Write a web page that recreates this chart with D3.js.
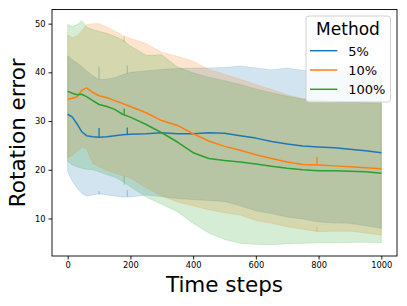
<!DOCTYPE html>
<html>
<head>
<meta charset="utf-8">
<script src="https://cdn.jsdelivr.net/npm/d3@7"></script>
<style>
  body { margin: 0; background: #fff; }
  svg { display: block; font-family: "DejaVu Sans", sans-serif; }
</style>
</head>
<body>
<svg id="chart" width="407" height="306"></svg>
<script>
// time steps shared by all methods
const steps = [0, 15, 30, 45, 60, 80, 100, 125, 150, 175, 200, 250, 300, 350, 400, 450, 500, 550, 600, 650, 700, 750, 800, 850, 900, 950, 1000];

// 5%
const mean5 = [31.4, 30.8, 29.4, 27.8, 27.0, 26.8, 26.7, 26.8, 27.0, 27.2, 27.3, 27.4, 27.6, 27.4, 27.4, 27.6, 27.5, 27.0, 26.5, 25.8, 25.3, 24.9, 24.7, 24.5, 24.2, 23.9, 23.5];
const lo5 = [19.6, 17.7, 16.2, 15.2, 14.6, 14.8, 15.1, 14.8, 14.6, 14.4, 14.4, 14.8, 14.5, 14.1, 13.9, 13.7, 13.5, 12.6, 11.6, 11.0, 10.3, 9.9, 9.3, 9.1, 9.0, 8.5, 8.0];
const hi5 = [43.4, 42.6, 41.9, 41.2, 40.3, 39.3, 38.5, 38.6, 38.9, 39.5, 40.0, 40.3, 40.6, 40.8, 40.9, 40.9, 41.0, 41.3, 40.9, 40.5, 40.9, 40.4, 40.3, 40.2, 40.2, 40.1, 40.0];

// 10%
const mean10 = [34.5, 34.7, 35.0, 36.3, 36.8, 35.9, 35.2, 34.8, 34.2, 33.6, 33.0, 31.7, 30.1, 29.1, 27.4, 25.9, 24.8, 24.0, 23.1, 22.3, 21.6, 21.1, 21.0, 20.8, 20.6, 20.4, 20.2];
const lo10 = [22.4, 23.0, 23.8, 24.6, 24.3, 21.3, 20.6, 19.9, 19.3, 18.8, 18.3, 16.3, 14.6, 13.4, 12.6, 11.8, 11.2, 10.7, 9.6, 9.0, 8.3, 7.8, 7.3, 7.4, 7.4, 7.0, 6.6];
const hi10 = [47.7, 47.1, 47.5, 48.5, 49.8, 50.0, 50.0, 49.3, 48.5, 47.6, 47.0, 45.9, 44.1, 43.3, 42.3, 40.6, 39.6, 38.6, 37.5, 36.5, 35.4, 34.6, 34.3, 34.1, 34.0, 33.9, 33.8];

// 100%
const mean100 = [36.1, 35.7, 35.4, 35.5, 35.0, 34.2, 33.4, 33.0, 32.4, 31.4, 30.8, 29.3, 27.6, 25.7, 23.5, 22.3, 21.9, 21.6, 21.2, 20.7, 20.3, 20.0, 19.8, 19.8, 19.7, 19.6, 19.3];
const lo100 = [21.7, 21.0, 20.6, 20.3, 20.1, 20.0, 19.6, 19.0, 18.5, 17.6, 16.5, 14.4, 12.9, 11.4, 9.0, 7.0, 5.7, 4.9, 4.7, 4.6, 4.8, 4.9, 5.0, 5.0, 5.1, 5.1, 5.0];
const hi100 = [49.8, 49.4, 49.8, 50.6, 49.3, 48.8, 48.4, 48.0, 47.4, 46.7, 45.4, 43.5, 43.6, 41.1, 39.9, 39.0, 38.3, 37.5, 36.6, 35.8, 35.1, 34.5, 34.2, 34.0, 33.9, 33.7, 33.6];

// single-step glitches: [step, from, to]
const spikes5 = [[100, 26.7, 28.6], [190, 27.3, 28.7]];
const bandSpikes5 = [[100, 38.5, 41.2], [190, 39.8, 41.4], [100, 14.9, 15.6], [190, 14.5, 15.8]];
const spikes10 = [[795, 21.0, 22.6]];
const bandSpikes10 = [[795, 7.3, 8.2]];
const spikes100 = [[180, 31.3, 32.6]];
const bandSpikes100 = [[180, 46.2, 47.3], [180, 16.9, 18.7]];

const labels = ['5%', '10%', '100%'];
const colors = ['#1f77b4', '#ff7f0e', '#2ca02c'];
const xTicks = [0, 200, 400, 600, 800, 1000];
const yTicks = [10, 20, 30, 40, 50];

const methods = [
  { mean: mean5, lo: lo5, hi: hi5, spikes: spikes5, bandSpikes: bandSpikes5 },
  { mean: mean10, lo: lo10, hi: hi10, spikes: spikes10, bandSpikes: bandSpikes10 },
  { mean: mean100, lo: lo100, hi: hi100, spikes: spikes100, bandSpikes: bandSpikes100 }
];

const svg = d3.select('#chart');
const plotLeft = 52, plotTop = 9.5, plotRight = 397, plotBottom = 256;

// matplotlib style 5% margins
function padded(lo, hi) {
  let m = (hi - lo) * 0.05;
  return [lo - m, hi + m];
}
let yMin = d3.min(methods, m => d3.min(m.lo));
let yMax = d3.max(methods, m => d3.max(m.hi));

const x = d3.scaleLinear().domain(padded(0, 1000)).range([plotLeft, plotRight]);
const y = d3.scaleLinear().domain(padded(yMin, yMax)).range([plotBottom, plotTop]);

let g = svg.append('g');

// bands
methods.forEach((m, i) => {
  let area = d3.area()
    .x((d, j) => x(steps[j]))
    .y0((d, j) => y(m.lo[j]))
    .y1((d, j) => y(m.hi[j]));
  g.append('path')
    .datum(steps)
    .attr('d', area)
    .style('fill', colors[i])
    .style('fill-opacity', 0.2)
    .style('stroke', colors[i])
    .style('stroke-opacity', 0.2)
    .style('stroke-width', 0.8);
  m.bandSpikes.forEach(s => {
    g.append('line')
      .attr('x1', x(s[0])).attr('x2', x(s[0]))
      .attr('y1', y(s[1])).attr('y2', y(s[2]))
      .style('stroke', colors[i])
      .style('stroke-opacity', 0.4)
      .style('stroke-width', 1);
  });
});

// mean lines
methods.forEach((m, i) => {
  let line = d3.line()
    .x((d, j) => x(steps[j]))
    .y((d, j) => y(m.mean[j]));
  g.append('path')
    .datum(steps)
    .attr('d', line)
    .style('fill', 'none')
    .style('stroke', colors[i])
    .style('stroke-width', 1.5)
    .style('stroke-linejoin', 'round');
  m.spikes.forEach(s => {
    g.append('line')
      .attr('x1', x(s[0])).attr('x2', x(s[0]))
      .attr('y1', y(s[1])).attr('y2', y(s[2]))
      .style('stroke', colors[i])
      .style('stroke-width', 1.3);
  });
});

// axes box
svg.append('rect')
  .attr('x', plotLeft).attr('y', plotTop)
  .attr('width', plotRight - plotLeft).attr('height', plotBottom - plotTop)
  .style('fill', 'none')
  .style('stroke', '#000')
  .style('stroke-width', 0.9);

let xAxis = svg.append('g')
  .attr('transform', 'translate(0,' + plotBottom + ')')
  .call(d3.axisBottom(x).tickValues(xTicks).tickSize(3.5).tickPadding(3).tickFormat(d3.format('d')));
let yAxis = svg.append('g')
  .attr('transform', 'translate(' + plotLeft + ',0)')
  .call(d3.axisLeft(y).tickValues(yTicks).tickSize(3.5).tickPadding(3).tickFormat(d3.format('d')));
[xAxis, yAxis].forEach(a => {
  a.select('.domain').remove();
  a.selectAll('text').style('font-size', '8.3px').style('font-family', '"DejaVu Sans", sans-serif').style('fill', '#000');
  a.selectAll('line').style('stroke', '#000').style('stroke-width', 0.9);
});

// axis labels
svg.append('text')
  .attr('x', (plotLeft + plotRight) / 2)
  .attr('y', 291.5)
  .attr('text-anchor', 'middle')
  .style('font-size', '21.5px')
  .text('Time steps');

svg.append('text')
  .attr('transform', 'translate(25,' + (plotTop + plotBottom) / 2 + ') rotate(-90)')
  .attr('text-anchor', 'middle')
  .style('font-size', '21.5px')
  .text('Rotation error');

// legend
let legend = svg.append('g');
legend.append('rect')
  .attr('x', 306).attr('y', 16)
  .attr('width', 84.5).attr('height', 86)
  .attr('rx', 3)
  .style('fill', '#fff')
  .style('fill-opacity', 0.8)
  .style('stroke', '#ccc')
  .style('stroke-width', 0.9);
legend.append('text')
  .attr('x', 348).attr('y', 35)
  .attr('text-anchor', 'middle')
  .style('font-size', '17px')
  .text('Method');
labels.forEach((lab, i) => {
  let ry = 50.7 + i * 19.3;
  legend.append('line')
    .attr('x1', 310).attr('x2', 337.3)
    .attr('y1', ry).attr('y2', ry)
    .style('stroke', colors[i])
    .style('stroke-width', 1.5);
  legend.append('text')
    .attr('x', 348.3).attr('y', ry + 4.8)
    .style('font-size', '13px')
    .text(lab);
});
</script>
</body>
</html>
